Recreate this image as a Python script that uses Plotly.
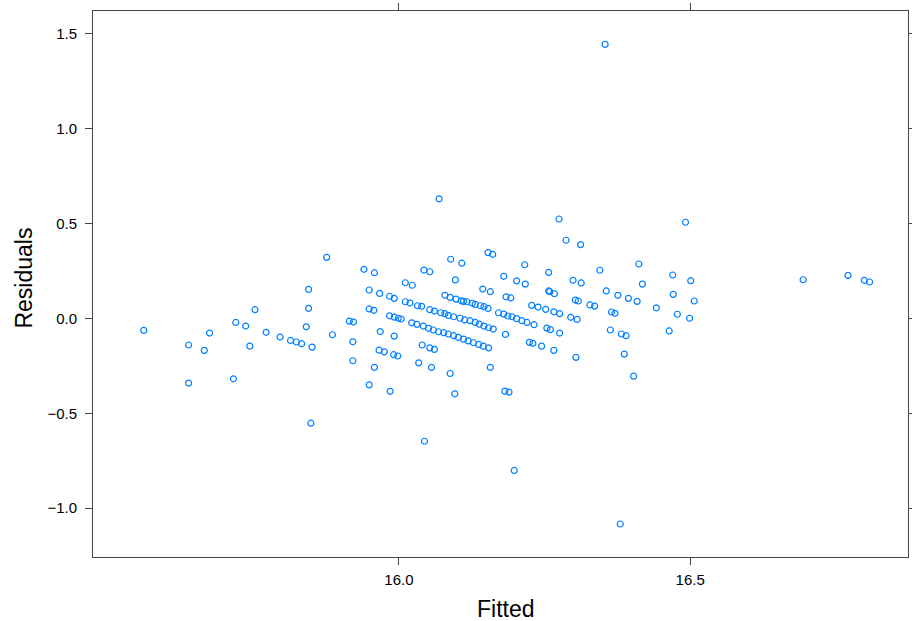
import plotly.graph_objects as go

fitted = [
    15.562, 15.639, 15.639, 15.666, 15.675, 15.716, 15.720, 15.737, 15.744, 15.753,
    15.772, 15.796, 15.814, 15.824, 15.833, 15.876, 15.940, 15.958, 15.845, 15.845,
    15.841, 15.949, 15.967, 15.984, 15.992, 16.011, 16.023, 16.011, 16.019, 15.949,
    15.957, 15.915, 15.922, 15.984, 15.992, 15.999, 16.004, 16.022, 15.968, 15.851,
    15.886, 15.921, 15.921, 15.992, 15.966, 15.975, 15.991, 15.998, 15.958, 15.949,
    15.985, 16.089, 16.108, 16.153, 16.161, 16.043, 16.053, 16.097, 16.180, 16.202,
    16.144, 16.157, 16.184, 16.192,
    16.079, 16.088, 16.098, 16.107, 16.111, 16.117, 16.126, 16.131, 16.140, 16.146, 16.153,
    16.032, 16.039, 16.053, 16.061,
    16.072, 16.079, 16.085, 16.094, 16.105, 16.113, 16.122, 16.131, 16.138, 16.146, 16.154, 16.162,
    16.171, 16.180, 16.187, 16.194, 16.202,
    16.031, 16.042, 16.051, 16.059, 16.068, 16.077, 16.085, 16.094, 16.102, 16.111, 16.119,
    16.128, 16.137, 16.145, 16.154,
    16.183, 16.040, 16.053, 16.061, 16.034, 16.056, 16.088, 16.157, 16.096, 16.182, 16.189,
    16.275, 16.287, 16.312, 16.216, 16.257, 16.345, 16.412, 16.217, 16.299, 16.313,
    16.418, 16.257, 16.259, 16.267, 16.356, 16.376, 16.303, 16.308, 16.394, 16.409,
    16.228, 16.239, 16.252, 16.266, 16.276, 16.328, 16.336, 16.365, 16.371, 16.211,
    16.220, 16.232, 16.295, 16.306, 16.254, 16.260, 16.363,
    16.276, 16.224, 16.230, 16.245, 16.266, 16.304, 16.382, 16.390, 16.387, 16.403,
    16.492, 16.470, 16.501, 16.471, 16.507, 16.442, 16.478, 16.499, 16.464,
    16.694, 16.771, 16.799, 16.808,
    16.354, 16.069, 15.849, 16.044, 16.198, 16.380,
]

residuals = [
    -0.063, -0.140, -0.341, -0.168, -0.077, -0.318, -0.021, -0.040, -0.146, 0.046,
    -0.073, -0.098, -0.116, -0.124, -0.133, 0.322, 0.259, 0.241, 0.153, 0.053,
    -0.044, 0.150, 0.132, 0.117, 0.106, 0.188, 0.175, 0.088, 0.081, 0.050,
    0.043, -0.014, -0.019, 0.014, 0.007, 0.001, -0.003, -0.023, -0.069, -0.151,
    -0.086, -0.123, -0.223, -0.093, -0.167, -0.176, -0.191, -0.198, -0.258, -0.350,
    -0.384, 0.312, 0.291, 0.347, 0.338, 0.255, 0.246, 0.203, 0.222, 0.198,
    0.155, 0.141, 0.114, 0.108,
    0.122, 0.111, 0.102, 0.093, 0.090, 0.088, 0.080, 0.074, 0.067, 0.062, 0.053,
    0.067, 0.064, 0.046, 0.039,
    0.030, 0.025, 0.016, 0.009, 0.001, -0.008, -0.012, -0.021, -0.030, -0.040, -0.049, -0.056,
    0.030, 0.023, 0.013, 0.009, -0.001,
    -0.031, -0.040, -0.052, -0.061, -0.070, -0.075, -0.082, -0.091, -0.100, -0.109, -0.118,
    -0.128, -0.137, -0.146, -0.155,
    -0.084, -0.140, -0.155, -0.163, -0.234, -0.258, -0.290, -0.258, -0.397, -0.383, -0.388,
    0.524, 0.412, 0.389, 0.283, 0.243, 0.254, 0.287, 0.181, 0.201, 0.187,
    0.181, 0.145, 0.141, 0.130, 0.145, 0.122, 0.097, 0.092, 0.106, 0.090,
    0.069, 0.060, 0.048, 0.035, 0.025, 0.071, 0.065, 0.034, 0.027, -0.012,
    -0.021, -0.033, 0.006, -0.005, -0.051, -0.059, -0.061,
    -0.077, -0.126, -0.131, -0.146, -0.168, -0.205, -0.082, -0.091, -0.188, -0.304,
    0.507, 0.229, 0.199, 0.127, 0.092, 0.056, 0.022, 0.001, -0.066,
    0.204, 0.227, 0.201, 0.192,
    1.444, 0.630, -0.552, -0.647, -0.801, -1.083,
]

x_ticks = [16.0, 16.5]
x_tick_labels = ["16.0", "16.5"]
y_ticks = [-1.0, -0.5, 0.0, 0.5, 1.0, 1.5]
y_tick_labels = ["\u22121.0", "\u22120.5", "0.0", "0.5", "1.0", "1.5"]

FONT = "Liberation Sans, Arial, sans-serif"

fig = go.Figure()
fig.add_trace(go.Scatter(
    x=fitted, y=residuals, mode="markers",
    marker=dict(symbol="circle-open", size=6, color="#0080ff",
                line=dict(width=1.2, color="#0080ff")),
    hoverinfo="x+y", showlegend=False,
))

axis_common = dict(
    showline=True, linecolor="#444444", linewidth=1, mirror="ticks",
    ticks="outside", ticklen=7, tickwidth=1, tickcolor="#444444",
    showgrid=False, zeroline=False, automargin=False,
    tickfont=dict(family=FONT, size=15, color="#000000"),
)

fig.update_layout(
    width=912, height=621,
    margin=dict(l=93, r=4, t=11, b=64),
    paper_bgcolor="white", plot_bgcolor="white",
    xaxis=dict(
        range=[15.4749, 16.874], tickvals=x_ticks, ticktext=x_tick_labels,
        ticklabelstandoff=2,
        **axis_common,
    ),
    yaxis=dict(
        range=[-1.257, 1.620], tickvals=y_ticks, ticktext=y_tick_labels,
        ticklabelstandoff=5,
        **axis_common,
    ),
    annotations=[
        dict(text="Fitted", xref="paper", yref="paper", x=0.507, y=0,
             xanchor="center", yanchor="middle", yshift=-52, showarrow=False,
             font=dict(family=FONT, size=23, color="#000000")),
        dict(text="Residuals", xref="paper", yref="paper", x=0, y=0.51,
             xanchor="center", yanchor="middle", xshift=-69, textangle=-90,
             showarrow=False, font=dict(family=FONT, size=23, color="#000000")),
    ],
)

fig.write_html(
    "out.html",
    config={"displayModeBar": False},
    post_script="document.body.style.margin='0';document.body.style.overflow='hidden';",
)
